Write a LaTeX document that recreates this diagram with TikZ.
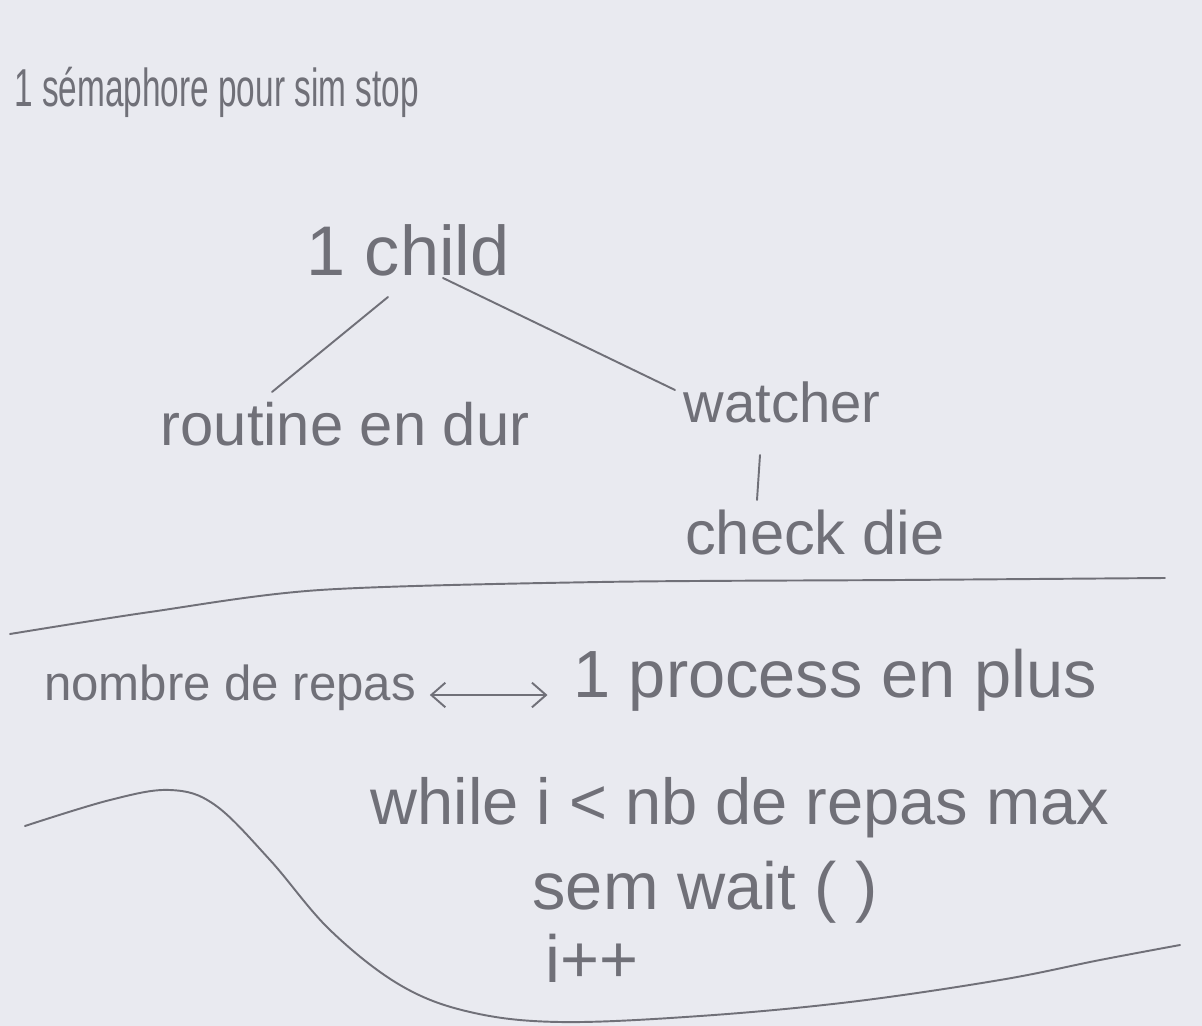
\documentclass[tikz,border=0pt]{standalone}
\usepackage{fontspec}
\setmainfont{Liberation Sans}
\usetikzlibrary{arrows.meta}
\definecolor{paper}{RGB}{233,234,240}
\definecolor{pencil}{RGB}{112,112,120}
\newcommand{\fs}[1]{\fontsize{#1}{#1}\selectfont}
\begin{document}
\begin{tikzpicture}[x=0.02cm,y=-0.02cm,
  hand/.style={text=pencil,inner sep=2pt,anchor=center},
  stroke/.style={draw=pencil,line width=1.1pt,line cap=round,line join=round},
  barb/.style={{Straight Barb[length=8pt,width=14pt]}-{Straight Barb[length=8pt,width=14pt]}}]
\fill[paper] (0,0) rectangle (1202,1026);
\useasboundingbox (0,0) rectangle (1202,1026);
% title
\node[hand,font=\fs{19},anchor=west,inner sep=0pt] (title) at (14,92) {\scalebox{1}[1.6]{1 sémaphore pour sim stop}};
% tree
\node[hand,font=\fs{40}] (child) at (408,250) {1 child};
\node[hand,font=\fs{34}] (routine) at (345,424) {routine en dur};
\node[hand,font=\fs{32}] (watcher) at (782,402) {watcher};
\node[hand,font=\fs{35}] (check) at (815,533) {check die};
\coordinate (c1) at (388,297);
\coordinate (r1) at (272,392);
\coordinate (c2) at (443,278);
\coordinate (w1) at (675,390);
\coordinate (w2) at (760,455);
\coordinate (k1) at (757,500);
\draw[stroke] (c1) -- (r1);
\draw[stroke] (c2) -- (w1);
\draw[stroke] (w2) -- (k1);
% separator
\draw[stroke] plot[smooth] coordinates {(10,634) (150,612) (320,590) (600,582) (900,580) (1165,578)};
% middle line
\node[hand,font=\fs{28}] (nombre) at (230,688) {nombre de repas};
\node[hand,font=\fs{38}] (process) at (835,680) {1 process en plus};
\path (nombre.east) ++(10,7) coordinate (a1);
\path (process.west) ++(-22,15) coordinate (a2);
\draw[stroke,barb] (a1) -- (a2);
% bottom wave
\draw[stroke] plot[smooth,tension=0.6] coordinates {(25,826) (110,800) (170,790) (215,805) (270,860) (330,930) (400,985) (470,1012) (560,1022) (700,1016) (850,1002) (1000,980) (1100,960) (1180,945)};
% loop text
\node[hand,font=\fs{37}] (while) at (740,808) {while i < nb de repas max};
\node[hand,font=\fs{38}] (sem) at (705,892) {sem wait ( )};
\node[hand,font=\fs{38}] (inc) at (592,958) {i++};
\end{tikzpicture}
\end{document}
